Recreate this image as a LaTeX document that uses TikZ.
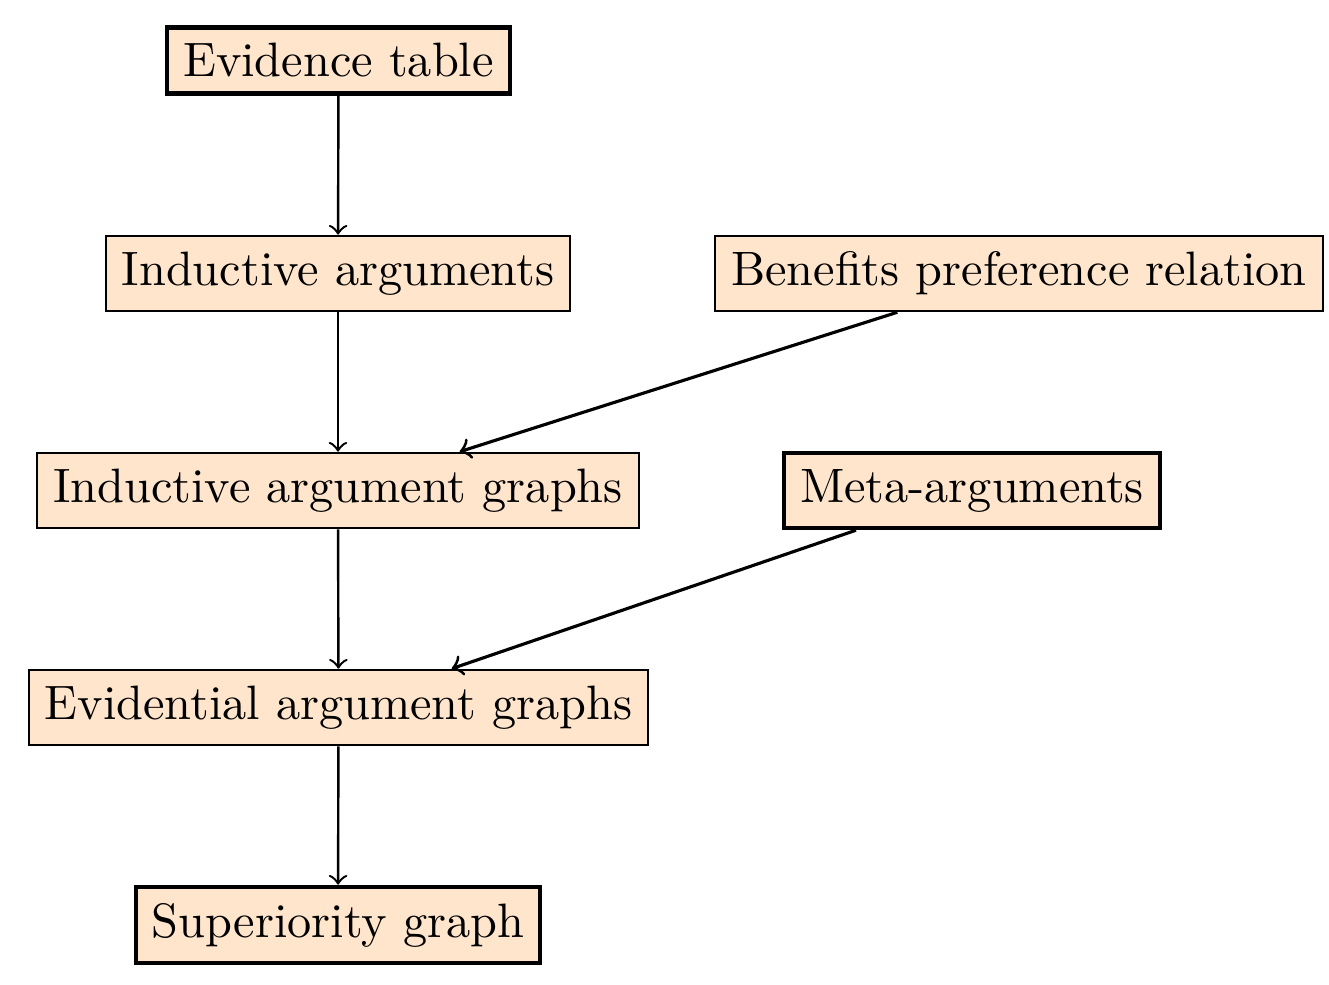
\documentclass[tikz,border=0pt]{standalone}
\begin{document}
\begin{tikzpicture}[x=0.207pt,y=-0.207pt,
  box/.style={draw, fill=orange!20, line width=0.4pt},
  boldbox/.style={draw, fill=orange!20, line width=0.9pt},
  arr/.style={->, line width=0.5pt},
  darr/.style={->, line width=0.65pt}]
\useasboundingbox (0,0) rectangle (1329,985);
\node[boldbox] (ET) at (338.5,60.5) {Evidence table};
\node[box] (IA) at (338,273.5) {Inductive arguments};
\node[box] (BP) at (1019,273.5) {Benefits preference relation};
\node[box] (IAG) at (338,490.5) {Inductive argument graphs};
\node[boldbox] (MA) at (972,490.5) {Meta-arguments};
\node[box] (EAG) at (338.5,707.5) {Evidential argument graphs};
\node[boldbox] (SG) at (338,925) {Superiority graph};
\draw[arr] (ET) -- (IA);
\draw[arr] (IA) -- (IAG);
\draw[arr] (IAG) -- (EAG);
\draw[arr] (EAG) -- (SG);
\draw[darr] (BP) -- (IAG);
\draw[darr] (MA) -- (EAG);
\end{tikzpicture}
\end{document}
